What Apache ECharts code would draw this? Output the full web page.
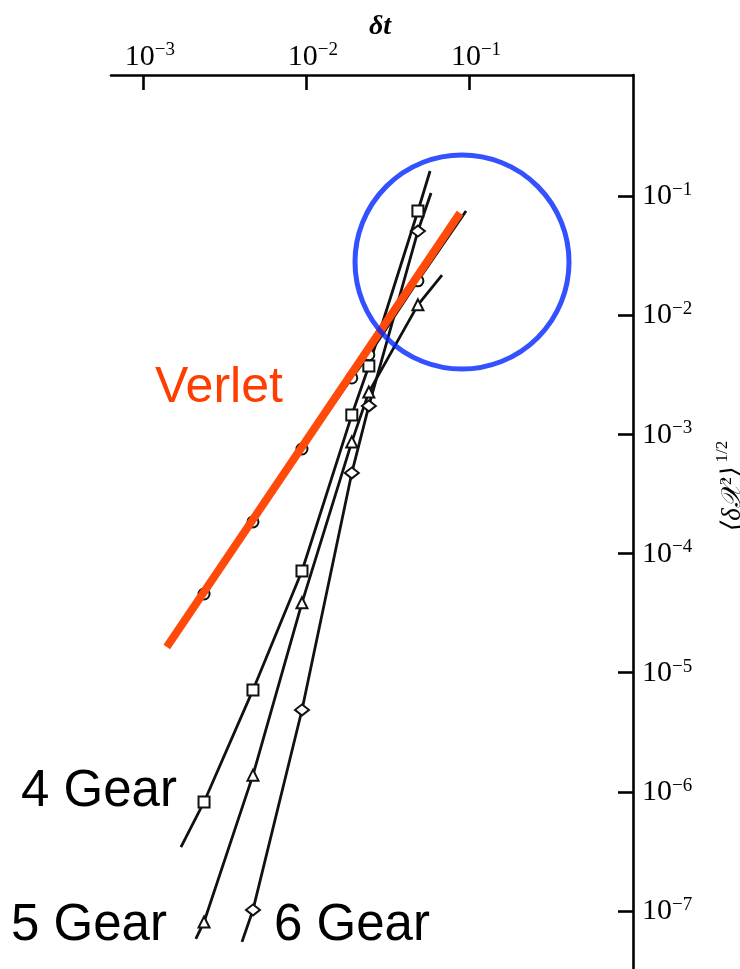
<!DOCTYPE html>
<html><head><meta charset="utf-8">
<script src="https://cdn.jsdelivr.net/npm/echarts@6/dist/echarts.min.js"></script>
<style>html,body{margin:0;padding:0;background:#fff}#c{width:740px;height:969px}</style>
</head><body><div id="c"></div>
<script>
// ---- data ----
const dtTicks = [0.001, 0.01, 0.1];
const errTicks = [1e-1, 1e-2, 1e-3, 1e-4, 1e-5, 1e-6, 1e-7];

const dtPoints = [0.00237, 0.00473, 0.00945, 0.0191, 0.0243, 0.0486];
const verlet = [4.57e-5, 1.84e-4, 7.53e-4, 2.97e-3, 4.64e-3, 1.94e-2];
const gear4  = [8.22e-7, 7.16e-6, 7.13e-5, 1.45e-3, 3.74e-3, 7.48e-2];
const gear5  = [8.09e-8, 1.38e-6, 3.85e-5, 8.63e-4, 2.26e-3, 1.22e-2];
const gear6  = [null,    1.02e-7, 4.86e-6, 4.74e-4, 1.73e-3, 5.08e-2];

// line ends drawn beyond the markers
const verletEnds = [null, [0.0959, 0.0748]];
const gear4Ends  = [[0.00171, 3.44e-7], [0.0577, 0.162]];
const gear5Ends  = [[0.00211, 5.82e-8], [0.0683, 0.0217]];
const gear6Ends  = [[0.00405, 5.50e-8], [0.0585, 0.106]];

// annotations
const orangeLine = [[0.00140, 1.64e-5], [0.0881, 0.0720]];
const circleCenter = [0.0906, 0.0279];

const xRange = [Math.pow(10, -3.196), Math.pow(10, 0.006)];
const yRange = [Math.pow(10, -7.487), Math.pow(10, 0.015)];

// ---- build ----
function build(xs, ys, ends) {
  const d = [];
  if (ends[0]) d.push({ value: ends[0], symbol: 'none' });
  xs.forEach((x, i) => { if (ys[i] != null) d.push([x, ys[i]]); });
  if (ends[1]) d.push({ value: ends[1], symbol: 'none' });
  return d;
}
function expOf(v) {
  return (v > 0 && v <= 1.5) ? Math.round(Math.log10(v)) : Math.round(v);
}
function fmt(v) {
  const e = expOf(v);
  return '{b|10}{s|' + (e < 0 ? '\u2212' + (-e) : e) + '}';
}
const serif = '"Liberation Serif", "DejaVu Serif", serif';
const ink = '#000';
const rich = {
  b: { fontFamily: serif, fontSize: 30, color: ink, verticalAlign: 'bottom' },
  s: { fontFamily: serif, fontSize: 19, color: ink, verticalAlign: 'bottom', padding: [0, 0, 12, 0] }
};

function lineSeries(name, data, symbol, size) {
  return {
    name, type: 'line', data, symbol, symbolSize: size, showSymbol: true,
    lineStyle: { color: '#111', width: 2.8 },
    itemStyle: { color: '#fff', borderColor: '#111', borderWidth: 2 },
    emphasis: { disabled: true }, silent: true, z: 2
  };
}

const chart = echarts.init(document.getElementById('c'), null, { renderer: 'canvas' });
chart.setOption({
  animation: false,
  backgroundColor: '#fff',
  grid: { left: 111, right: 107, top: 75, bottom: 0, containLabel: false, outerBoundsMode: 'none' },
  xAxis: {
    type: 'log', logBase: 10, position: 'top', min: xRange[0], max: xRange[1],
    name: '\u03b4t', nameLocation: 'middle', nameGap: 34, nameMoveOverlap: false,
    nameTextStyle: { fontFamily: serif, fontStyle: 'italic', fontWeight: 'bold', fontSize: 28, color: ink, padding: [0, 0, 0, 16] },
    axisLine: { show: true, onZero: false, lineStyle: { color: ink, width: 2.6 } },
    axisTick: { show: true, inside: true, length: 15, customValues: dtTicks, lineStyle: { color: ink, width: 2.6 } },
    axisLabel: { show: true, margin: 3, customValues: dtTicks, formatter: fmt, rich, padding: [0, 0, 0, 14] },
    splitLine: { show: false }, minorTick: { show: false }, minorSplitLine: { show: false }
  },
  yAxis: {
    type: 'log', logBase: 10, position: 'right', min: yRange[0], max: yRange[1],
    name: '{m|\u27e8\u03b4\ud835\udcb3}{p|2}{m|\u27e9}{q|1/2}', nameLocation: 'middle', nameGap: 81, nameMoveOverlap: false,
    nameTextStyle: {
      padding: [0, 0, 0, 72],
      rich: {
        m: { fontFamily: serif, fontStyle: 'italic', fontSize: 27, color: ink, verticalAlign: 'bottom' },
        p: { fontFamily: serif, fontSize: 16, color: ink, verticalAlign: 'bottom', padding: [0, 0, 11, 0] },
        q: { fontFamily: serif, fontSize: 17, color: ink, verticalAlign: 'bottom', padding: [0, 0, 15, 4] }
      }
    },
    axisLine: { show: true, onZero: false, lineStyle: { color: ink, width: 2.6 } },
    axisTick: { show: true, inside: true, length: 15, customValues: errTicks, lineStyle: { color: ink, width: 2.6 } },
    axisLabel: { show: true, margin: 9, customValues: errTicks, formatter: fmt, rich },
    splitLine: { show: false }, minorTick: { show: false }, minorSplitLine: { show: false }
  },
  series: [
    lineSeries('Verlet', build(dtPoints, verlet, verletEnds), 'circle', 11),
    lineSeries('4 Gear', build(dtPoints, gear4, gear4Ends), 'rect', 11),
    lineSeries('5 Gear', build(dtPoints, gear5, gear5Ends), 'triangle', [11, 11]),
    lineSeries('6 Gear', build(dtPoints, gear6, gear6Ends), 'diamond', [14, 11]),
    {
      name: 'Verlet fit', type: 'line', data: orangeLine, symbol: 'none',
      lineStyle: { color: '#ff4a0a', width: 8, cap: 'butt' }, silent: true, z: 5
    },
    {
      name: 'highlight', type: 'scatter', data: [circleCenter], symbol: 'circle', symbolSize: 214,
      itemStyle: { color: 'rgba(0,0,0,0)', borderColor: '#0026ff', borderWidth: 5 },
      silent: true, z: 6, clip: false
    }
  ],
  graphic: [
    { type: 'text', x: 155, y: 388, z: 10, style: { text: 'Verlet', font: '50px "Liberation Sans", Arial, sans-serif', fill: '#ff3d00', align: 'left', verticalAlign: 'middle' } },
    { type: 'text', x: 21, y: 792, z: 10, style: { text: '4 Gear', font: '51px "Liberation Sans", Arial, sans-serif', fill: '#000', align: 'left', verticalAlign: 'middle' } },
    { type: 'text', x: 11, y: 926, z: 10, style: { text: '5 Gear', font: '51px "Liberation Sans", Arial, sans-serif', fill: '#000', align: 'left', verticalAlign: 'middle' } },
    { type: 'text', x: 274, y: 926, z: 10, style: { text: '6 Gear', font: '51px "Liberation Sans", Arial, sans-serif', fill: '#000', align: 'left', verticalAlign: 'middle' } }
  ]
});
</script>
</body></html>
